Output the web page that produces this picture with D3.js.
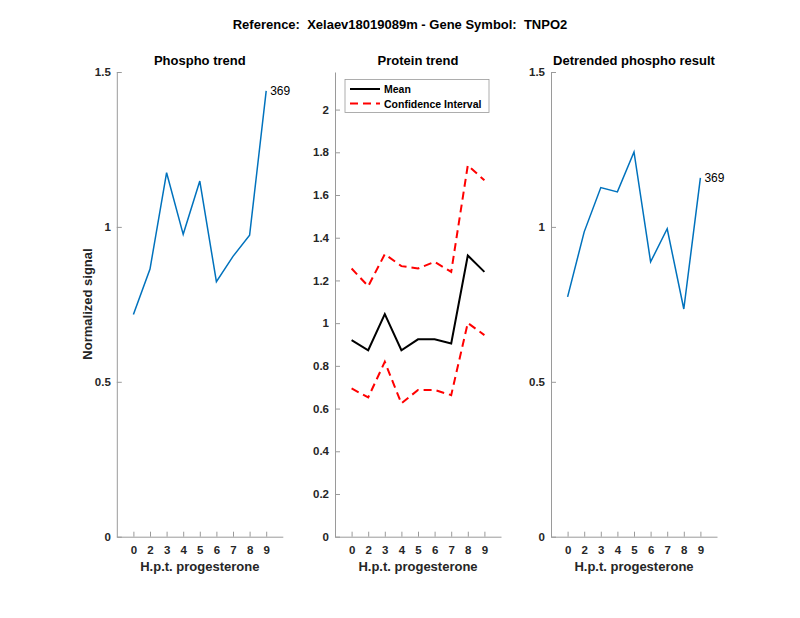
<!DOCTYPE html>
<html lang="en">
<head>
<meta charset="UTF-8">
<script src="https://d3js.org/d3.v7.min.js"></script>
<title>TNPO2</title>
<style>
body { margin: 0; background: #fff; }
svg { font-family: "Liberation Sans", Arial, sans-serif; }
.tick text { font-weight: bold; fill: #262626; font-size: 11.5px; }
.domain, .tick line { stroke: #9a9a9a; }
</style>
</head>
<body>
<svg width="800" height="618"></svg>
<script>
// time points (h.p.t. progesterone)
const hours = ["0", "2", "3", "4", "5", "6", "7", "8", "9"]
const phospho = [0.717, 0.864, 1.175, 0.976, 1.148, 0.823, 0.905, 0.973, 1.439]
const proteinMean = [0.920, 0.873, 1.042, 0.873, 0.924, 0.924, 0.905, 1.317, 1.240]
const ciUpper = [1.256, 1.173, 1.323, 1.267, 1.256, 1.287, 1.240, 1.739, 1.669]
const ciLower = [0.694, 0.652, 0.819, 0.624, 0.687, 0.687, 0.663, 1.001, 0.944]
const detrended = [0.774, 0.984, 1.127, 1.113, 1.242, 0.887, 0.994, 0.735, 1.158]
const phosphoTicks = [0, 0.5, 1, 1.5]
const proteinTicks = [0, 0.2, 0.4, 0.6, 0.8, 1, 1.2, 1.4, 1.6, 1.8, 2]
const siteLabel = "369"

const svg = d3.select("svg")
const plotTop = 72, plotBottom = 536.7, panelW = 166

svg.append("text").attr("x", 400).attr("y", 29).attr("text-anchor", "middle")
    .style("font-weight", "bold").style("font-size", "13px").style("white-space", "pre")
    .attr("fill", "#000")
    .text("Reference:  Xelaev18019089m - Gene Symbol:  TNPO2")

const panel = (left, title, ymax, yticks) => {
    const g = svg.append("g")
    const x = d3.scaleLinear().domain([0, hours.length + 1]).range([left, left + panelW])
    const y = d3.scaleLinear().domain([0, ymax]).range([plotBottom, plotTop])
    g.append("g").attr("transform", `translate(0,${plotBottom})`)
        .call(d3.axisBottom(x).tickValues(d3.range(1, hours.length + 1))
            .tickFormat(i => hours[i - 1]).tickSizeInner(-5).tickSizeOuter(0).tickPadding(9))
    g.append("g").attr("transform", `translate(${left},0)`)
        .call(d3.axisLeft(y).tickValues(yticks).tickFormat(d3.format("~g"))
            .tickSizeInner(-5).tickSizeOuter(0).tickPadding(6))
    g.selectAll(".tick line").attr("stroke", "#9a9a9a")
    g.append("text").attr("x", left + panelW / 2).attr("y", 65).attr("text-anchor", "middle")
        .style("font-weight", "bold").style("font-size", "13px").attr("fill", "#000").text(title)
    g.append("text").attr("x", left + panelW / 2).attr("y", 571).attr("text-anchor", "middle")
        .style("font-weight", "bold").style("font-size", "13px").attr("fill", "#262626")
        .text("H.p.t. progesterone")
    return { g, x, y }
}

const drawLine = (p, vals, color, width, dash) => {
    const line = d3.line().x((d, i) => p.x(i + 1)).y(d => p.y(d))
    const path = p.g.append("path").datum(vals).attr("d", line).attr("fill", "none")
        .attr("stroke", color).attr("stroke-width", width)
    if (dash) path.attr("stroke-dasharray", dash)
    return path
}

const siteText = (p, vals) => {
    const n = vals.length
    p.g.append("text").attr("x", p.x(n) + 4).attr("y", p.y(vals[n - 1]) + 4)
        .style("font-size", "12px").attr("fill", "#000").text(siteLabel)
}

// panel 1
const p1 = panel(116.8, "Phospho trend", 1.5, phosphoTicks)
drawLine(p1, phospho, "#0072BD", 1.5)
siteText(p1, phospho)
svg.append("text").attr("transform", `translate(92,304) rotate(-90)`).attr("text-anchor", "middle")
    .style("font-weight", "bold").style("font-size", "13px").attr("fill", "#262626")
    .text("Normalized signal")

// panel 2
const p2 = panel(335, "Protein trend", 2.176, proteinTicks)
drawLine(p2, ciUpper, "#ff0000", 2, "8,5")
drawLine(p2, ciLower, "#ff0000", 2, "8,5")
drawLine(p2, proteinMean, "#000", 2)

const lg = p2.g.append("g")
lg.append("rect").attr("x", 345).attr("y", 79.5).attr("width", 144).attr("height", 33)
    .attr("fill", "#fff").attr("stroke", "#9a9a9a").attr("stroke-width", 0.8)
const legendItems = [["Mean", "#000", null], ["Confidence Interval", "#ff0000", "8,5"]]
legendItems.forEach(([label, color, dash], i) => {
    const ly = 89 + i * 14.5
    const l = lg.append("line").attr("x1", 350).attr("x2", 380).attr("y1", ly).attr("y2", ly)
        .attr("stroke", color).attr("stroke-width", 2)
    if (dash) l.attr("stroke-dasharray", dash)
    lg.append("text").attr("x", 384).attr("y", ly + 4).style("font-weight", "bold")
        .style("font-size", "10.5px").attr("fill", "#000").text(label)
})

// panel 3
const p3 = panel(551, "Detrended phospho result", 1.5, phosphoTicks)
drawLine(p3, detrended, "#0072BD", 1.5)
siteText(p3, detrended)
</script>
</body>
</html>
